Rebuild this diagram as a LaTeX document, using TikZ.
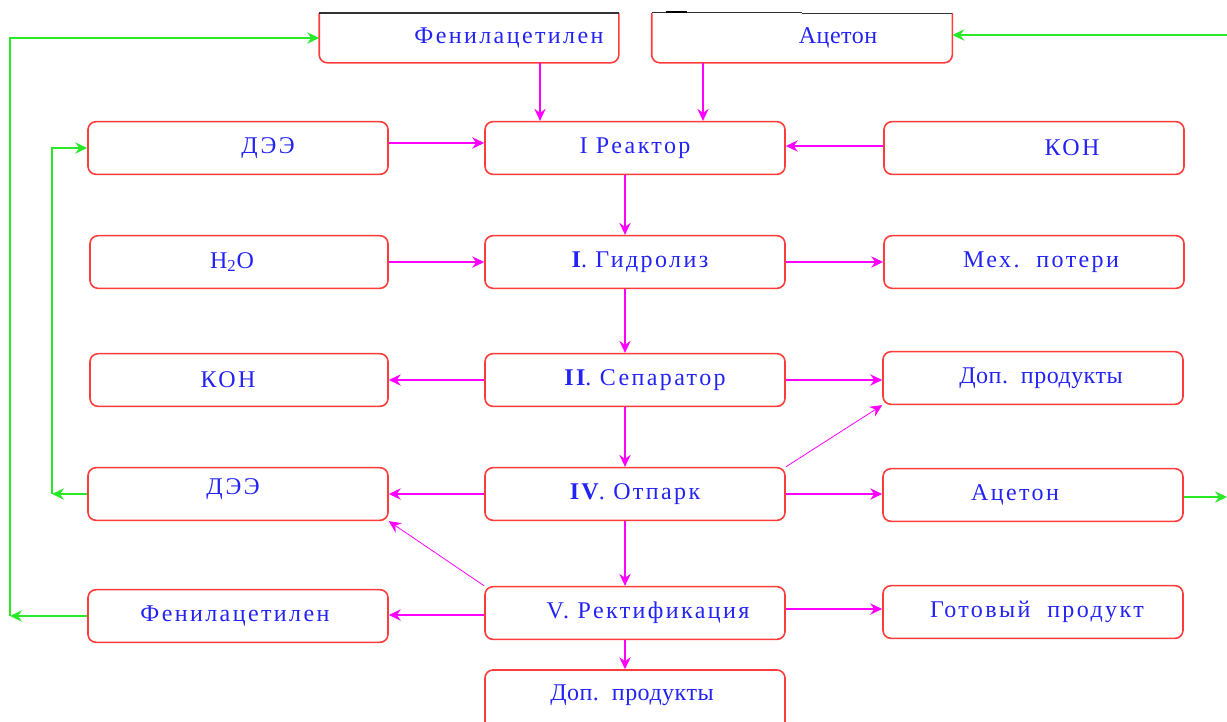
\documentclass[tikz,border=0pt]{standalone}
\usepackage{fontspec}
\setmainfont{Liberation Serif}[LetterSpace=10]
\newfontfamily\tightsp{Liberation Serif}[LetterSpace=2]
\usetikzlibrary{arrows.meta}

\definecolor{boxred}{RGB}{255,60,60}
\definecolor{flowmag}{RGB}{255,0,255}
\definecolor{recycle}{RGB}{40,232,40}
\definecolor{labelblue}{RGB}{35,35,245}

\begin{document}
\begin{tikzpicture}[x=0.75pt,y=-0.75pt,
  boxline/.style={draw=boxred, line width=1.2pt},
  box/.style={boxline, rounded corners=6pt, minimum width=225pt,
    minimum height=39.5pt, inner sep=0pt, text=labelblue,
    font=\fontsize{18}{21}\selectfont},
  topbox/.style={box, draw=none, minimum height=36pt},
  tx/.style={execute at begin node={\hspace*{#1}}},
  tip/.style={-{Stealth[length=9pt,width=8.5pt,inset=3pt]}},
  flow/.style={draw=flowmag, line width=1.1pt, tip},
  thin flow/.style={flow, line width=0.6pt},
  gflow/.style={draw=recycle, line width=1.1pt, tip}]

\useasboundingbox (0,0) rectangle (1227,721);
\clip (0,0) rectangle (1227,721);

% feed streams
\node[topbox, minimum width=223.5pt, tx=60pt] (fTop)  at (469,38) {Фенилацетилен};
\node[topbox, minimum width=224.25pt, tx=54pt] (acTop) at (802,38) {\tightsp Ацетон};

% reactor row
\node[box, tx=45pt] (dee1)    at (238,148) {ДЭЭ};
\node[box]          (reactor) at (635,148) {I Реактор};
\node[box, tx=57pt] (kon1)    at (1034,148) {КОН};

% hydrolysis row
\node[box, minimum width=223.5pt, tx=-10.5pt] (h2o) at (239,262) {H\textsubscript{2}O};
\node[box, tx=7.5pt]  (hydro) at (635,262) {\textbf{I}. Гидролиз};
\node[box, tx=10.5pt] (mech)  at (1034,262) {Мех.\ \ потери};

% separator row
\node[box, minimum width=223.5pt, tx=-16.5pt] (kon2) at (239,380) {КОН};
\node[box, tx=15pt] (sep)  at (635,380) {\textbf{II}. Сепаратор};
\node[box, tx=12pt] (dop1) at (1033,378) {\tightsp Доп.\ \ продукты};

% stripping row
\node[box, tx=-7.5pt] (dee2) at (238,494) {\raisebox{10.5pt}{ДЭЭ}};
\node[box]            (otp)  at (635,494) {\textbf{IV}. Отпарк};
\node[box, tx=-27pt]  (acet) at (1033,495) {Ацетон};

% rectification row
\node[box, tx=-4.5pt] (fen2)  at (238,616) {Фенилацетилен};
\node[box, tx=19.5pt] (rect)  at (635,613) {V. Ректификация};
\node[box, tx=6pt]    (ready) at (1033,612) {Готовый\ \ продукт};

% by-products leaving the column
\node[box, minimum height=45pt, tx=-4.5pt] (dop2) at (635,700) {\raisebox{10.5pt}{\tightsp Доп.\ \ продукты}};

% outlines of the feed boxes: square top, rounded bottom
\draw[boxline, rounded corners=6pt] (fTop.north west) -- (fTop.south west) -- (fTop.south east) -- (fTop.north east);
\draw[boxline, rounded corners=6pt] (acTop.north west) -- (acTop.south west) -- (acTop.south east) -- (acTop.north east);
\draw[black!80, line width=1.1pt] (fTop.north west) -- (fTop.north east);
\draw[black!80, line width=0.9pt] ([yshift=0.75pt]acTop.north west) -- ([yshift=0.75pt]acTop.north);
\draw[black!80, line width=0.9pt] ([yshift=-0.5pt]acTop.north) -- ([yshift=-0.5pt]acTop.north east);
\draw[black, line width=2pt] ([xshift=10.5pt,yshift=1pt]acTop.north west) -- ++(21,0);

% main flow
\draw[flow] ([xshift=53.25pt]fTop.south) -- ([xshift=53.25pt]fTop.south |- reactor.north);
\draw[flow] ([xshift=-74.25pt]acTop.south) -- ([xshift=-74.25pt]acTop.south |- reactor.north);
\draw[flow] ([yshift=3.75pt]dee1.east) -- ([yshift=3.75pt]dee1.east -| reactor.west);
\draw[flow] ([yshift=1.5pt]kon1.west) -- ([yshift=1.5pt]kon1.west -| reactor.east);
\draw[flow] ([xshift=-7.5pt]reactor.south) -- ([xshift=-7.5pt]reactor.south |- hydro.north);
\draw[flow] (h2o.east) -- (h2o.east -| hydro.west);
\draw[flow] (hydro.east) -- (hydro.east -| mech.west);
\draw[flow] ([xshift=-7.5pt]hydro.south) -- ([xshift=-7.5pt]hydro.south |- sep.north);
\draw[flow] (sep.west) -- (sep.west -| kon2.east);
\draw[flow] (sep.east) -- (sep.east -| dop1.west);
\draw[flow] ([xshift=-7.5pt]sep.south) -- ([xshift=-7.5pt]sep.south |- otp.north);
\draw[flow] (otp.west) -- (otp.west -| dee2.east);
\draw[flow] (otp.east) -- (otp.east -| acet.west);
\draw[thin flow] (otp.north east) -- (dop1.south west);
\draw[flow] ([xshift=-7.5pt]otp.south) -- ([xshift=-7.5pt]otp.south |- rect.north);
\draw[thin flow] (rect.north west) -- (dee2.south east);
\draw[flow] ([yshift=-1.5pt]rect.west) -- ([yshift=-1.5pt]rect.west -| fen2.east);
\draw[flow] ([yshift=3pt]rect.east) -- ([yshift=3pt]rect.east -| ready.west);
\draw[flow] ([xshift=-7.5pt]rect.south) -- ([xshift=-7.5pt]rect.south |- dop2.north);

% recycle lines
\coordinate (railOuter) at (10,0);
\coordinate (railInner) at (52,0);
\coordinate (feedIn)    at (1227,35);
\coordinate (edgeOut)   at (1227,0);
\draw[gflow] (fen2.west) -- (fen2.west -| railOuter);
\draw[gflow] (fen2.west -| railOuter) -- (railOuter |- fTop.west) -- (fTop.west);
\draw[gflow] (dee2.west) -- (dee2.west -| railInner);
\draw[gflow] (dee2.west -| railInner) -- (railInner |- dee1.west) -- (dee1.west);
\draw[gflow] (feedIn) -- (feedIn -| acTop.east);
\draw[gflow] ([yshift=-1.5pt]acet.east) -- ([yshift=-1.5pt]acet.east -| edgeOut);
\end{tikzpicture}
\end{document}
